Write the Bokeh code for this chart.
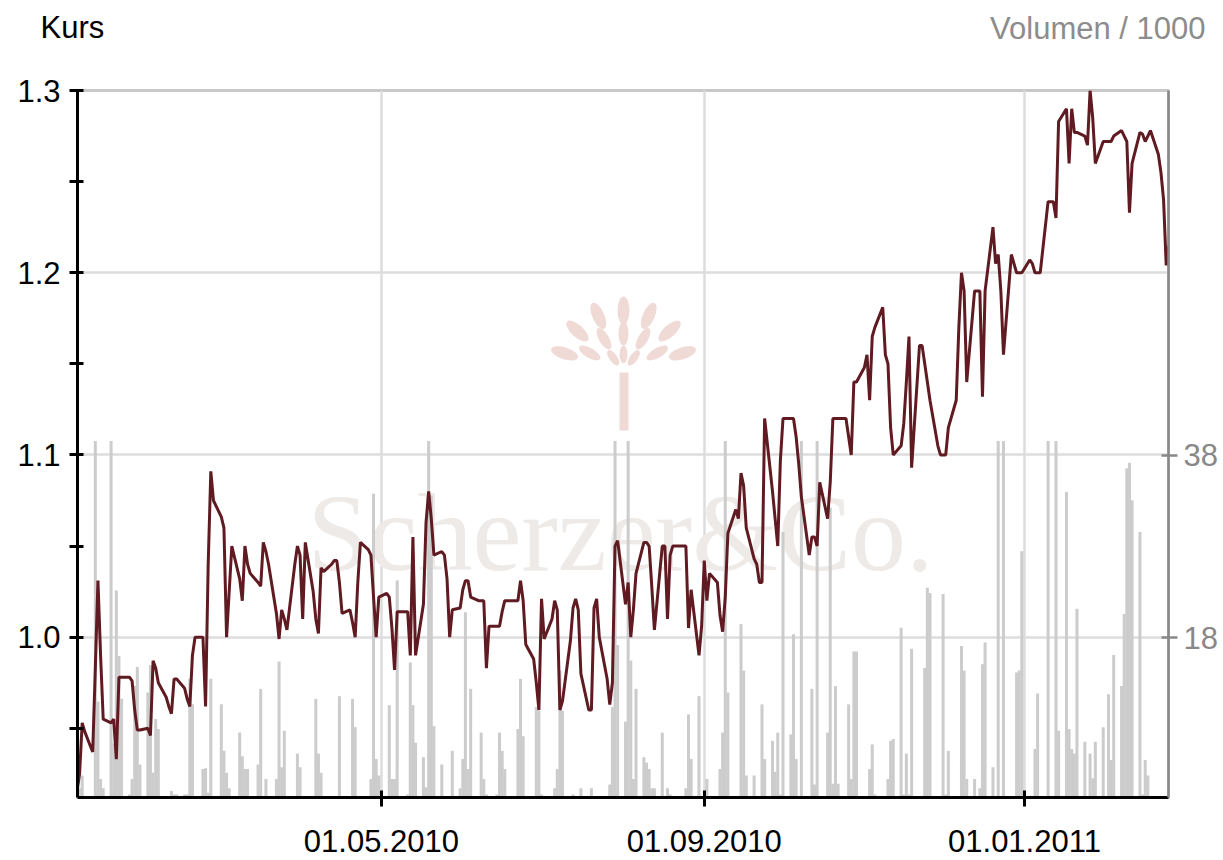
import math
import pandas as pd
from bokeh.plotting import figure
from bokeh.layouts import column
from bokeh.models import (Range1d, LinearAxis, FixedTicker, DatetimeTickFormatter,
                          NumeralTickFormatter, Label)
from bokeh.embed import file_html
from bokeh.resources import INLINE

# ---------------- data ----------------
start_day = "2010-01-05"          # first trading day shown

price = [
    0.915, 0.925, 0.953, 0.948, 0.937, 0.983, 1.031, 0.990, 0.955, 0.953,
    0.955, 0.933, 0.978, 0.978, 0.978, 0.976, 0.960, 0.949, 0.949, 0.950,
    0.946, 0.987, 0.983, 0.975, 0.967, 0.962, 0.958, 0.977, 0.977, 0.972,
    0.966, 0.962, 0.990, 1.000, 1.000, 0.962, 1.040, 1.091, 1.075, 1.066,
    1.060, 1.000, 1.025, 1.050, 1.032, 1.020, 1.050, 1.040, 1.035, 1.030,
    1.028, 1.052, 1.047, 1.040, 1.013, 0.999, 1.015, 1.010, 1.004, 1.040,
    1.050, 1.045, 1.010, 1.052, 1.025, 1.010, 1.002, 1.038, 1.036, 1.040,
    1.042, 1.042, 1.030, 1.013, 1.015, 1.008, 1.000, 1.030, 1.052, 1.048,
    1.045, 1.022, 1.000, 1.022, 1.024, 1.022, 1.005, 0.982, 1.014, 1.014,
    1.014, 0.990, 1.055, 0.990, 1.018, 1.063, 1.080, 1.065, 1.045, 1.047,
    1.045, 1.032, 1.000, 1.015, 1.016, 1.026, 1.031, 1.031, 1.022, 1.020,
    1.020, 1.020, 0.983, 1.006, 1.006, 1.006, 1.014, 1.020, 1.020, 1.020,
    1.020, 1.031, 1.020, 0.996, 0.988, 0.975, 0.960, 1.021, 0.999, 1.010,
    1.020, 1.015, 0.960, 0.965, 0.998, 1.016, 1.021, 1.015, 0.980, 0.960,
    0.960, 1.016, 1.021, 1.000, 0.977, 0.963, 0.975, 1.050, 1.053, 1.018,
    1.030, 1.000, 1.015, 1.035, 1.052, 1.052, 1.050, 1.028, 1.004, 1.050,
    1.050, 1.010, 1.045, 1.050, 1.050, 1.050, 1.050, 1.005, 1.026, 0.990,
    1.006, 1.042, 1.020, 1.035, 1.030, 1.012, 1.003, 1.022, 1.057, 1.070,
    1.065, 1.090, 1.083, 1.060, 1.043, 1.040, 1.030, 1.030, 1.120, 1.080,
    1.065, 1.050, 1.097, 1.120, 1.120, 1.120, 1.110, 1.095, 1.077, 1.045,
    1.055, 1.055, 1.050, 1.085, 1.065, 1.085, 1.120, 1.120, 1.120, 1.120,
    1.110, 1.100, 1.140, 1.140, 1.148, 1.155, 1.130, 1.165, 1.170, 1.181,
    1.155, 1.150, 1.115, 1.100, 1.105, 1.117, 1.140, 1.165, 1.093, 1.160,
    1.160, 1.150, 1.140, 1.130, 1.105, 1.100, 1.100, 1.100, 1.115, 1.130,
    1.170, 1.200, 1.190, 1.140, 1.190, 1.190, 1.190, 1.132, 1.190, 1.225,
    1.205, 1.210, 1.190, 1.155, 1.210, 1.205, 1.200, 1.200, 1.200, 1.207,
    1.205, 1.200, 1.200, 1.200, 1.239, 1.239, 1.239, 1.230, 1.283, 1.290,
    1.260, 1.290, 1.277, 1.277, 1.275, 1.270, 1.300, 1.285, 1.260, 1.272,
    1.272, 1.272, 1.272, 1.275, 1.278, 1.275, 1.272, 1.233, 1.260, 1.277,
    1.276, 1.272, 1.275, 1.278, 1.265, 1.255, 1.240, 1.204, 1.215,
]

volume = [
    2.5, 1.5, 2.9, 0, 0, 39.6, 11, 2.5, 1.5, 39.6,
    6.4, 23.2, 16, 11.3, 0.8, 2.5, 12.7, 14.8, 4.1, 12,
    15, 3.2, 9.1, 8, 0, 0, 1.2, 0.8, 0.8, 0.8,
    0.8, 13.5, 10.7, 0, 3.6, 3.7, 1.0, 13.5, 0, 10.7,
    5.6, 3.2, 1.5, 0, 7.6, 5.0, 3.6, 3.6, 0, 4.1,
    12.4, 0, 2.5, 0, 2.5, 15.4, 3.8, 7.8, 0, 0,
    5.3, 3.8, 0.3, 0, 0, 11.3, 5.3, 3.2, 0, 0,
    0, 0, 11.6, 0, 0, 11.3, 8.2, 0, 0, 0,
    2.5, 33.8, 4.7, 2.9, 0, 10.6, 2.5, 2.5, 24.3, 0,
    0.8, 15.3, 10.6, 6.5, 4.9, 1.6, 39.6, 33.6, 8.3, 4.1,
    0, 0, 0, 5.6, 1.5, 4.7, 20.8, 3.6, 12.4, 0,
    7.6, 2.5, 0.8, 0, 0.8, 7.6, 5.6, 3.6, 0, 0,
    8, 13.5, 7.2, 0, 0, 10.4, 10, 0.8, 0, 0,
    1.5, 3.6, 14.4, 10, 0, 0.8, 0, 0, 1.5, 0,
    1.5, 0, 0, 0, 0, 1.9, 10.4, 39.6, 17.2, 8.8,
    39.6, 15.5, 2.5, 12.4, 4.9, 4.3, 3.6, 1.5, 1.5, 7.6,
    0, 1.5, 0.8, 0, 0, 0, 1.5, 9.6, 4.7, 11.6,
    0, 0, 2.5, 0, 0, 3.6, 7.6, 39.6, 12, 0,
    0, 19.5, 14.4, 2.9, 2.9, 0, 0, 10.7, 4.7, 6.7,
    3.3, 7.6, 0.8, 29.6, 7.4, 18.4, 4.7, 0.5, 39.6, 0,
    12.4, 1.9, 39.6, 0, 7.6, 32.3, 2, 12.7, 2, 0,
    10.7, 2.5, 16.5, 16.5, 0, 0, 3.6, 6.3, 0.8, 0,
    0, 2.5, 6.7, 6.9, 19.1, 0.8, 5.3, 0.8, 16.8, 0,
    0, 14.7, 23.5, 22.9, 0, 0, 22.8, 0.8, 5.6, 0,
    0, 17.1, 14.4, 2.5, 2.5, 0, 1.5, 15.1, 17.5, 3.8,
    0, 39.6, 0, 39.6, 0, 0, 14.2, 14.4, 27.5, 0,
    0, 5.8, 11.9, 0.5, 39.6, 0, 0.3, 39.6, 7.8, 34,
    8.0, 5.8, 5.3, 21.2, 6.6, 0, 5.3, 2.6, 6.6, 8.2,
    0, 11.8, 4.6, 16.1, 12.7, 20.6, 36.6, 37.2, 33.1, 29.6,
    0.8, 4.6, 2.9, 0.3, 0.3, 0, 0, 0, 0,
]

x_tick_dates = ["2010-05-01", "2010-09-01", "2011-01-01"]
price_ticks = [1.0, 1.1, 1.2, 1.3]
price_minor_ticks = [0.95, 1.05, 1.15, 1.25]
volume_ticks = [18, 38]

# ---------------- layout / styling ----------------
n = min(len(price), len(volume))
dates = pd.bdate_range(start_day, periods=n)

X0 = pd.Timestamp("2010-01-05 05:00")
X1 = pd.Timestamp("2011-02-24 21:00")
Y0, Y1 = 0.912, 1.300
V0, V1 = 0.48, 78.04

FONT = "Liberation Sans"
FS = "31px"
W = 1220
HEAD_H = 60

# ---- heading strip (titles of both axes) ----
head = figure(width=W, height=HEAD_H, x_range=Range1d(0, W), y_range=Range1d(0, HEAD_H),
              x_axis_location=None, y_axis_location=None,
              output_backend="svg", toolbar_location=None,
              min_border=0, outline_line_color=None,
              background_fill_color="white", border_fill_color="white")
head.grid.visible = False
head.add_layout(Label(x=40, y=HEAD_H - 27, text="Kurs", text_align="left",
                      text_baseline="middle", text_font=FONT, text_font_size=FS,
                      text_color="black"))
head.add_layout(Label(x=1205, y=HEAD_H - 28, text="Volumen / 1000", text_align="right",
                      text_baseline="middle", text_font=FONT, text_font_size=FS,
                      text_color="#8c8c8c"))

# ---- main chart ----
p = figure(frame_width=1091, frame_height=707,
           x_axis_type="datetime",
           x_range=Range1d(X0, X1), y_range=Range1d(Y0, Y1),
           output_backend="svg", toolbar_location=None,
           min_border_left=77, min_border_right=W - 77 - 1091,
           min_border_top=90 - HEAD_H, min_border_bottom=63,
           background_fill_color="white", border_fill_color="white",
           outline_line_color="#c8c8c8", outline_line_width=3)
p.extra_y_ranges = {"vol": Range1d(V0, V1)}

for fig in (head, p):
    try:
        fig.frame_align = False
    except Exception:
        pass

# watermark helpers (frame pixel -> data)
def fx(px):
    return X0 + (px - 77) / (1168 - 77) * (X1 - X0)

def fy(py):
    return Y0 + (797 - py) / (797 - 90) * (Y1 - Y0)

# watermark logo (light tree)
leaf_x, leaf_y, leaf_a, leaf_w, leaf_h = [], [], [], [], []
cx, cy = 623, 372
for radius, angles, (lw, lh) in [
        (62, [18, 42, 66, 90, 114, 138, 162], (28, 12)),
        (39, [30, 60, 90, 120, 150], (24, 10)),
        (18, [55, 90, 125], (18, 8))]:
    for a in angles:
        t = math.radians(a)
        leaf_x.append(fx(cx + radius * math.cos(t)))
        leaf_y.append(fy(cy - radius * math.sin(t)))
        leaf_a.append(t)
        leaf_w.append(lw)
        leaf_h.append(lh)
p.ellipse(x=leaf_x, y=leaf_y, width=leaf_w, height=leaf_h, angle=leaf_a,
          width_units="screen", height_units="screen",
          fill_color="#f0dad6", line_color=None, level="underlay")
p.quad(left=[fx(619)], right=[fx(628)], bottom=[fy(430)], top=[fy(372)],
       fill_color="#f0dad6", line_color=None, level="underlay")

p.add_layout(Label(x=543, y=265, x_units="screen", y_units="screen",
                   text="Scherzer&Co.", text_align="center",
                   text_baseline="alphabetic", text_font="Liberation Serif",
                   text_font_size="110px", text_color="#eeeae7",
                   level="underlay"))

# volume bars
p.vbar(x=dates[:n], top=volume[:n], bottom=0, width=1.15 * 86400000,
       y_range_name="vol", fill_color="#cccccc", line_color=None)

# price line
p.line(x=dates[:n], y=price[:n], line_color="#5f1b21", line_width=3)

# grids
for g in (p.xgrid, p.ygrid):
    g.grid_line_color = "#dddddd"
    g.grid_line_width = 2.5

# left axis
ya = p.yaxis[0]
ya.ticker = FixedTicker(ticks=price_ticks, minor_ticks=price_minor_ticks)
ya.formatter = NumeralTickFormatter(format="0.0")
ya.axis_line_color = "black"
ya.axis_line_width = 3
ya.major_tick_line_color = "black"
ya.major_tick_line_width = 3
ya.minor_tick_line_color = "black"
ya.minor_tick_line_width = 3
ya.major_tick_in = 6
ya.major_tick_out = 8
ya.minor_tick_in = 6
ya.minor_tick_out = 8
ya.major_label_standoff = 9
ya.major_label_text_font = FONT
ya.major_label_text_font_size = FS
ya.major_label_text_color = "black"

# bottom axis
xa = p.xaxis[0]
xa.ticker = FixedTicker(ticks=[pd.Timestamp(d).value // 10**6 for d in x_tick_dates])
fmt = "%d.%m.%Y"
xa.formatter = DatetimeTickFormatter(milliseconds=fmt, seconds=fmt, minsec=fmt,
                                     minutes=fmt, hourmin=fmt, hours=fmt,
                                     days=fmt, months=fmt, years=fmt)
xa.axis_line_color = "black"
xa.axis_line_width = 3
xa.major_tick_line_color = "black"
xa.major_tick_line_width = 3
xa.major_tick_in = 7
xa.major_tick_out = 9
xa.minor_tick_line_color = None
xa.major_label_standoff = 23
xa.major_label_text_font = FONT
xa.major_label_text_font_size = FS
xa.major_label_text_color = "black"

# right (volume) axis
va = LinearAxis(y_range_name="vol", ticker=FixedTicker(ticks=volume_ticks))
va.axis_line_color = "#888888"
va.axis_line_width = 2.5
va.major_tick_line_color = "#888888"
va.major_tick_line_width = 2.5
va.major_tick_in = 7
va.major_tick_out = 9
va.minor_tick_line_color = None
va.major_label_standoff = 6
va.major_label_text_font = FONT
va.major_label_text_font_size = FS
va.major_label_text_color = "#888888"
p.add_layout(va, "right")

layout = column(head, p, spacing=0)
open("out.html", "w").write(file_html(layout, INLINE))
